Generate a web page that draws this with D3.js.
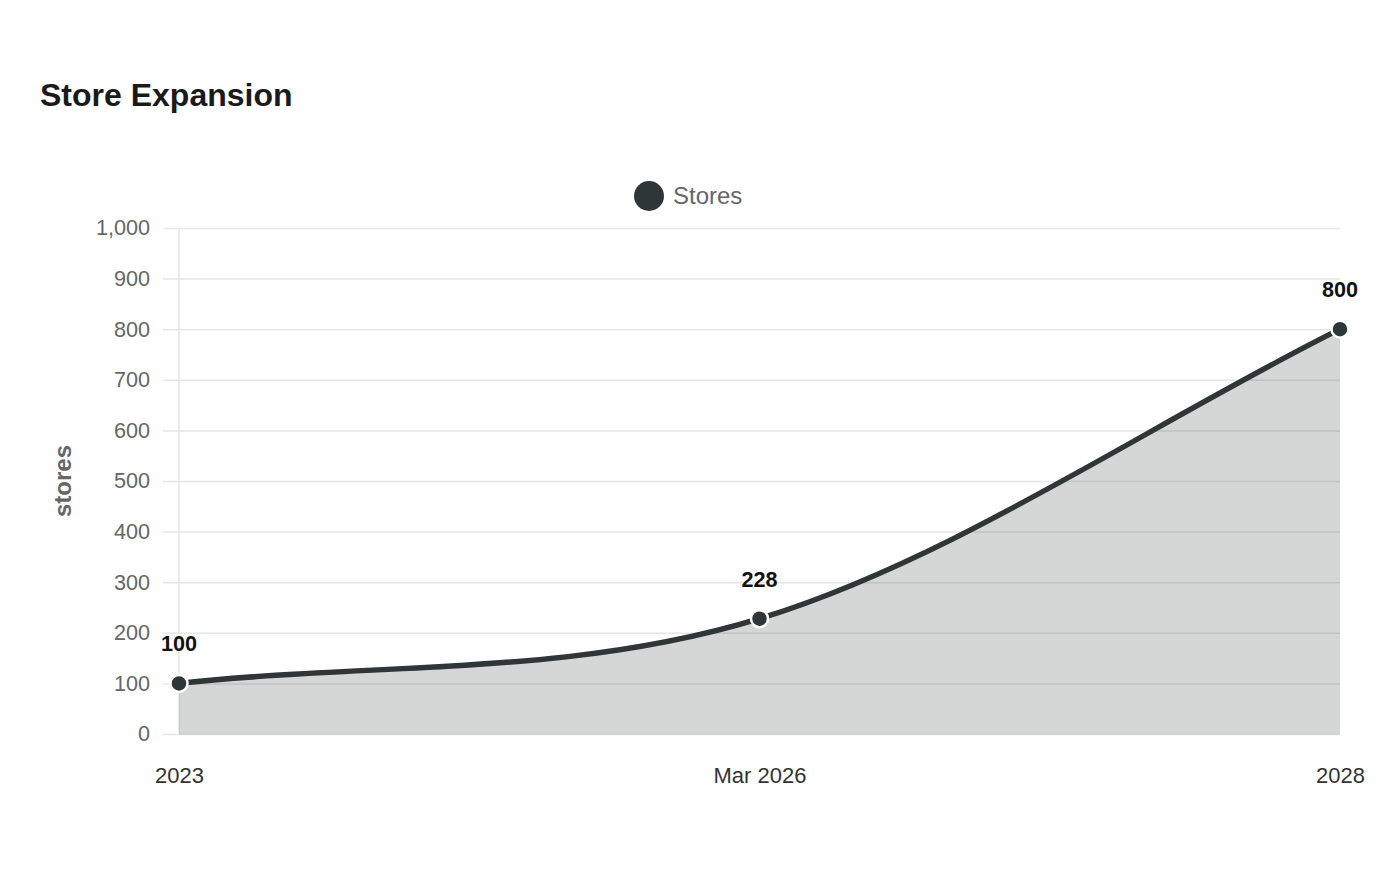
<!DOCTYPE html>
<html>
<head>
<meta charset="utf-8">
<script src="https://cdn.jsdelivr.net/npm/d3@7"></script>
<style>
  body { margin: 0; background: #fff; font-family: "Liberation Sans", Arial, sans-serif; }
</style>
</head>
<body>
<script>
const w = 1400;
const h = 880;

// ----- DATA -----
const categories = ["2023", "Mar 2026", "2028"];
const stores = [100, 228, 800];
const yTicks = [0, 100, 200, 300, 400, 500, 600, 700, 800, 900, 1000];
const seriesName = "Stores";

const lineColor = "#2f3638";
const margin = { left: 179, right: 60, top: 228, bottom: 146 };
const plotW = w - margin.left - margin.right;

// monotone cubic (Fritsch-Carlson, end slopes = end secants)
function MonoSpline(context) { this._context = context; }
MonoSpline.prototype = {
  areaStart: function () { this._line = 0; },
  areaEnd: function () { this._line = NaN; },
  lineStart: function () { this._x = []; this._y = []; },
  point: function (x, y) { this._x.push(+x); this._y.push(+y); },
  lineEnd: function () {
    const xs = this._x, ys = this._y, n = xs.length;
    const c = this._context;
    if (n) {
      this._line ? c.lineTo(xs[0], ys[0]) : c.moveTo(xs[0], ys[0]);
      const dk = [], mk = [];
      for (let i = 0; i < n - 1; i++) {
        const dx = xs[i + 1] - xs[i];
        dk.push(dx ? (ys[i + 1] - ys[i]) / dx : 0);
      }
      for (let i = 0; i < n; i++) {
        if (i === 0) mk.push(dk[0] || 0);
        else if (i === n - 1) mk.push(dk[n - 2]);
        else if (Math.sign(dk[i - 1]) !== Math.sign(dk[i])) mk.push(0);
        else mk.push((dk[i - 1] + dk[i]) / 2);
      }
      for (let i = 0; i < n - 1; i++) {
        if (Math.abs(dk[i]) < 1e-9) { mk[i] = mk[i + 1] = 0; continue; }
        const a = mk[i] / dk[i], b = mk[i + 1] / dk[i], sq = a * a + b * b;
        if (sq <= 9) continue;
        const tau = 3 / Math.sqrt(sq);
        mk[i] = a * tau * dk[i];
        mk[i + 1] = b * tau * dk[i];
      }
      for (let i = 1; i < n; i++) {
        const d = (xs[i] - xs[i - 1]) / 3;
        c.bezierCurveTo(xs[i - 1] + d, ys[i - 1] + mk[i - 1] * d,
                        xs[i] - d, ys[i] - mk[i] * d, xs[i], ys[i]);
      }
    }
    if (this._line || (this._line !== 0 && n === 1)) c.closePath();
    this._line = 1 - this._line;
  }
};
const curveMono = context => new MonoSpline(context);

const svg = d3.select("body").append("svg")
  .attr("width", w)
  .attr("height", h);

// ----- TITLE -----
svg.append("text")
  .attr("x", 40).attr("y", 106)
  .style("font-size", "32px").style("font-weight", "bold")
  .attr("fill", "#1a1a1a")
  .text("Store Expansion");

// ----- SCALES -----
const x = d3.scalePoint()
  .domain(categories)
  .range([margin.left, w - margin.right]);

const y = d3.scaleLinear()
  .domain([0, 1000])
  .range([h - margin.bottom, margin.top]);

// ----- GRID / Y AXIS -----
const yAxis = d3.axisLeft(y)
  .tickValues(yTicks)
  .tickSize(16)
  .tickPadding(13)
  .tickFormat(d3.format(","));

const gy = svg.append("g")
  .attr("transform", `translate(${margin.left}, 0)`)
  .call(yAxis);
gy.select(".domain").remove();
gy.selectAll(".tick line")
  .attr("x1", -16).attr("x2", plotW)
  .attr("stroke", "#e6e6e6").attr("stroke-width", 1.5);
gy.selectAll(".tick text")
  .style("font-size", "21.6px")
  .style("font-family", "Liberation Sans, Arial, sans-serif")
  .attr("fill", "#666");

// vertical axis line
svg.append("line")
  .attr("x1", margin.left).attr("x2", margin.left)
  .attr("y1", y(1000)).attr("y2", y(0))
  .attr("stroke", "#e6e6e6").attr("stroke-width", 1.5);

// y axis title
svg.append("text")
  .attr("transform", `translate(71, ${(y(0) + y(1000)) / 2}) rotate(-90)`)
  .attr("text-anchor", "middle")
  .style("font-size", "24px").style("font-weight", "bold")
  .attr("fill", "#666")
  .text("stores");

// ----- X AXIS -----
const xAxis = d3.axisBottom(x).tickSize(0).tickPadding(33);
const gx = svg.append("g")
  .attr("transform", `translate(0, ${y(0)})`)
  .call(xAxis);
gx.select(".domain").remove();
gx.selectAll(".tick text")
  .style("font-size", "22px")
  .style("font-family", "Liberation Sans, Arial, sans-serif")
  .attr("fill", "#333");

// ----- AREA + LINE -----
const pts = categories.map((c, i) => ({ c: c, v: stores[i] }));

const area = d3.area()
  .x(d => x(d.c))
  .y0(y(0))
  .y1(d => y(d.v))
  .curve(curveMono);

const line = d3.line()
  .x(d => x(d.c))
  .y(d => y(d.v))
  .curve(curveMono);

svg.append("path")
  .datum(pts)
  .attr("d", area)
  .attr("fill", lineColor)
  .attr("fill-opacity", 0.2);

// baseline
svg.append("line")
  .attr("x1", margin.left).attr("x2", w - margin.right)
  .attr("y1", y(0)).attr("y2", y(0))
  .attr("stroke", "#d0d0d0").attr("stroke-width", 1.5);

svg.append("path")
  .datum(pts)
  .attr("d", line)
  .attr("fill", "none")
  .attr("stroke", lineColor)
  .attr("stroke-width", 5.4);

svg.selectAll("circle.pt")
  .data(pts)
  .enter().append("circle")
  .attr("class", "pt")
  .attr("cx", d => x(d.c))
  .attr("cy", d => y(d.v))
  .attr("r", 8.5)
  .attr("fill", lineColor)
  .attr("stroke", "#fff")
  .attr("stroke-width", 2.5);

svg.selectAll("text.lbl")
  .data(pts)
  .enter().append("text")
  .attr("class", "lbl")
  .attr("x", d => x(d.c))
  .attr("y", d => y(d.v) - 32)
  .attr("text-anchor", "middle")
  .style("font-size", "21.6px").style("font-weight", "bold")
  .attr("fill", "#111")
  .text(d => d.v);

// ----- LEGEND -----
svg.append("circle")
  .attr("cx", 649).attr("cy", 196).attr("r", 15)
  .attr("fill", lineColor);
svg.append("text")
  .attr("x", 673).attr("y", 204)
  .style("font-size", "24px")
  .attr("fill", "#666")
  .text(seriesName);
</script>
</body>
</html>
